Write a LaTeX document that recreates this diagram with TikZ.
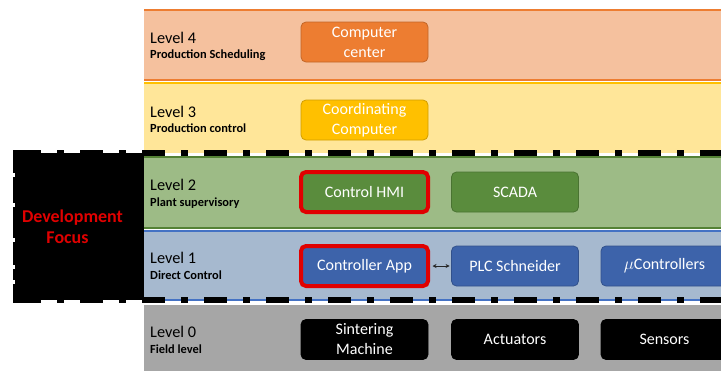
\documentclass[tikz,border=0pt]{standalone}
\usepackage{fontspec}
\setmainfont{Carlito}
\usetikzlibrary{arrows.meta}

\definecolor{lvfourfill}{HTML}{F5C19E}
\definecolor{lvfourline}{HTML}{ED7D31}
\definecolor{lvthreefill}{HTML}{FFE699}
\definecolor{lvthreeline}{HTML}{FFC000}
\definecolor{lvtwofill}{HTML}{9DBB86}
\definecolor{lvtwoline}{HTML}{548235}
\definecolor{lvonefill}{HTML}{A6B9CF}
\definecolor{lvoneline}{HTML}{4472C4}
\definecolor{lvzerofill}{HTML}{A6A6A6}
\definecolor{boxorange}{HTML}{ED7D31}
\definecolor{boxgold}{HTML}{FFC000}
\definecolor{boxgreen}{HTML}{5A8C3D}
\definecolor{boxblue}{HTML}{3D63AA}
\definecolor{focusred}{HTML}{E00000}

\tikzset{
  levelname/.style={anchor=base west, inner sep=0pt, font=\fontsize{16.3}{19}\selectfont},
  levelsub/.style={anchor=base west, inner sep=0pt, font=\bfseries\fontsize{12.4}{14}\selectfont},
  unit/.style={rounded corners=5pt, minimum width=127pt, minimum height=40pt,
    inner sep=0pt, align=center, text=white,
    font=\fontsize{16}{20}\selectfont, fill=#1, draw=#1!82!black, line width=0.8pt},
  focusunit/.style={draw=focusred, line width=4pt},
  dashline/.style={line width=5.5pt, dash pattern=on 23pt off 16pt on 7pt off 16pt,
    dash phase=57pt},
  devtext/.style={inner sep=0pt, anchor=base, text=focusred,
    font=\bfseries\fontsize{18}{21}\selectfont},
}

\begin{document}
\begin{tikzpicture}[x=1pt,y=-1pt]
  \useasboundingbox (0,0) rectangle (721,370);
  \clip (0,0) rectangle (721,370);
  \fill[white] (0,0) rectangle (721,370);

  % level bands
  \fill[lvfourfill] (144,10) rectangle (740,80);
  \draw[lvfourline, line width=2pt] (144,10) -- (740,10) (144,80) -- (740,80);
  \fill[lvthreefill] (144,83) rectangle (740,153);
  \draw[lvthreeline, line width=2pt] (144,83) -- (740,83);
  \fill[lvtwofill] (144,156) rectangle (740,228);
  \draw[lvtwoline, line width=2pt] (144,157) -- (740,157) (144,228) -- (740,228);
  \fill[lvonefill] (144,231) rectangle (740,300);
  \draw[lvoneline, line width=2pt] (144,231) -- (740,231) (144,300) -- (740,300);
  \fill[lvzerofill] (144,305) rectangle (740,375);

  % level captions
  \node[levelname] (l4) at (150,43) {Level 4};
  \node[levelsub] (l4s) at (150,58) {Production Scheduling};
  \node[levelname] (l3) at (150,117) {Level 3};
  \node[levelsub] (l3s) at (150,132) {Production control};
  \node[levelname] (l2) at (150,190) {Level 2};
  \node[levelsub] (l2s) at (150,206) {Plant supervisory};
  \node[levelname] (l1) at (150,263) {Level 1};
  \node[levelsub] (l1s) at (150,279) {Direct Control};
  \node[levelname] (l0) at (150,337) {Level 0};
  \node[levelsub] (l0s) at (150,353) {Field level};

  % development focus frame
  \fill[black] (15,153) rectangle (144,300);
  \draw[dashline] (13,153) -- (760,153);
  \draw[dashline] (13,300) -- (760,300);
  \draw[black, line width=5pt] (15.5,150.3) -- (15.5,302.7);
  \foreach \ny in {173,203,238,265,280}
    \fill[white] (12.5,\ny) rectangle (14.8,\ny+4);
  \node[devtext] (dev) at (72.5,222) {Development};
  \node[devtext] (foc) at (67.5,243) {Focus};

  % units
  \node[unit=boxorange] (cc) at (364.5,42) {Computer\\center};
  \node[unit=boxgold] (coord) at (364.5,120) {Coordinating\\Computer};
  \node[unit=boxgreen, focusunit] (hmi) at (364.5,192) {Control HMI};
  \node[unit=boxgreen] (scada) at (515,192) {SCADA};
  \node[unit=boxblue, focusunit] (app) at (364.5,266) {Controller App};
  \node[unit=boxblue] (plc) at (515,266) {PLC Schneider};
  \node[unit=boxblue] (mc) at (664.5,266) {$\mu$Controllers};
  \node[unit=black] (sint) at (364.5,339.5) {Sintering\\Machine};
  \node[unit=black] (act) at (515,339.5) {Actuators};
  \node[unit=black] (sens) at (664.5,339.5) {Sensors};

  \draw[{Stealth[length=4pt,width=4pt]}-{Stealth[length=4pt,width=4pt]}, line width=0.8pt, black!85]
    ([xshift=2.5pt]app.east) -- ([xshift=-1.5pt]plc.west);
\end{tikzpicture}
\end{document}
